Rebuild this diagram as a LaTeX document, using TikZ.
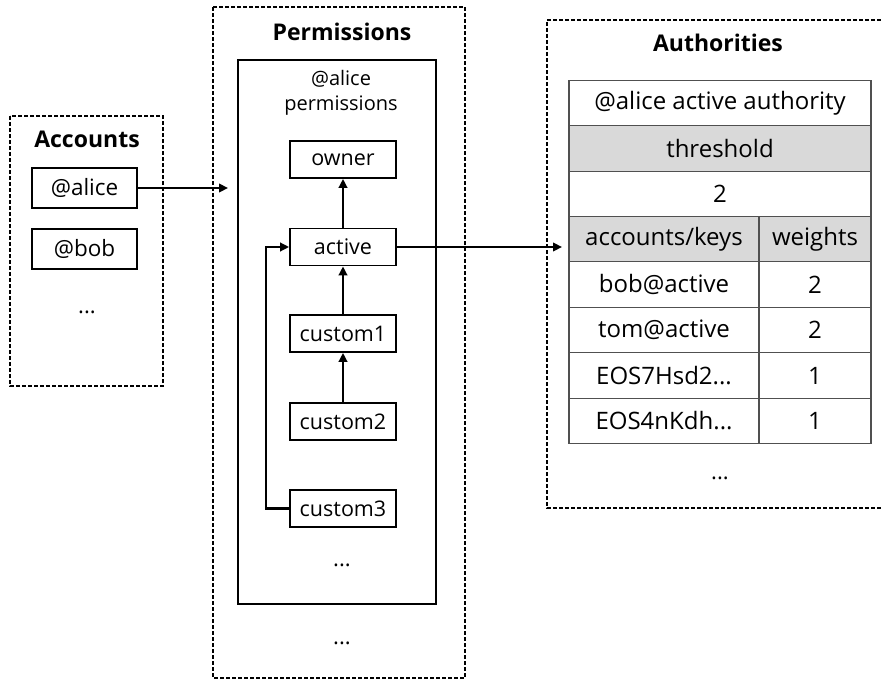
\documentclass[tikz,border=0pt]{standalone}
\usepackage{fontspec}
\setmainfont{Open Sans}
\usetikzlibrary{arrows.meta}
\definecolor{cellgray}{HTML}{D9D9D9}
\definecolor{gridline}{HTML}{505050}
\begin{document}
\begin{tikzpicture}[x=1pt,y=-1pt,
  group/.style={draw, line width=1.3pt, dash pattern=on 4pt off 2pt},
  title/.style={font=\bfseries\fontsize{23}{27}\selectfont, inner sep=0pt},
  label/.style={font=\fontsize{22}{26}\selectfont, inner sep=0pt},
  box/.style={draw, line width=1.8pt, minimum width=106pt, minimum height=37pt,
    inner sep=0pt, font=\fontsize{21.5}{26}\selectfont},
  cell/.style={draw=gridline, line width=1.1pt, minimum height=45.5pt,
    inner sep=0pt, font=\fontsize{24}{28}\selectfont},
  shaded/.style={fill=cellgray},
  arr/.style={-{Triangle[length=9pt,width=8.5pt]}, line width=2.4pt}]
\useasboundingbox (0,0) rectangle (881,680);

% ---- Accounts ----
\draw[group] (10,116) rectangle (163,386);
\node[title] (acctitle) at (87,139) {Accounts};
\node[box, minimum width=105pt, minimum height=40pt, font=\fontsize{22.5}{26}\selectfont] (alice) at (84.5,188) {@alice};
\node[box, minimum width=105pt, minimum height=40pt, font=\fontsize{22.5}{26}\selectfont] (bob) at (84.5,249) {@bob};
\node[label] (accdots) at (87,312) {...};

% ---- Permissions ----
\draw[group] (213,7) rectangle (465,678);
\node[title] (permtitle) at (342,32) {Permissions};
\draw[line width=1.8pt] (238,60) rectangle (436,604);
\node[label, align=center, font=\fontsize{20}{26}\selectfont] (alperm) at (341,93) {@alice\\[-1pt]permissions};
\node[box] (owner) at (343,159.5) {owner};
\node[box] (active) at (343,247) {active};
\node[box] (custom1) at (343,333.5) {custom1};
\node[box] (custom2) at (343,421.5) {custom2};
\node[box] (custom3) at (343,508.5) {custom3};
\node[label] (permdots) at (342,565) {...};
\node[label] (outerdots) at (342,643) {...};

% ---- Authorities ----
\draw[group] (881,20) -- (547,20) -- (547,508) -- (881,508);
\node[title] (authtitle) at (718,43) {Authorities};
\node[cell, minimum width=302pt] (hdr) at (720,103) {@alice active authority};
\node[cell, shaded, minimum width=302pt] (thr) at (720,148.5) {threshold};
\node[cell, minimum width=302pt] (thrval) at (720,194) {2};
\node[cell, shaded, minimum width=190pt] (keyhead) at (664,239) {accounts/keys};
\node[cell, shaded, minimum width=112pt] (wthead) at (815,239) {weights};
\node[cell, minimum width=190pt] (k1) at (664,284.5) {bob@active};
\node[cell, minimum width=112pt] (w1) at (815,284.5) {2};
\node[cell, minimum width=190pt] (k2) at (664,330) {tom@active};
\node[cell, minimum width=112pt] (w2) at (815,330) {2};
\node[cell, minimum width=190pt] (k3) at (664,375.5) {EOS7Hsd2...};
\node[cell, minimum width=112pt] (w3) at (815,375.5) {1};
\node[cell, minimum width=190pt] (k4) at (664,421) {EOS4nKdh...};
\node[cell, minimum width=112pt] (w4) at (815,421) {1};
\node[label] (authdots) at (720,478) {...};

% ---- connectors ----
\coordinate (permin) at (228,188);
\coordinate (authin) at (562,247);
\coordinate (loopx) at (266,0);
\draw[arr] (alice.east) -- (permin);
\draw[arr] (active.north) -- (owner.south);
\draw[arr] (custom1.north) -- (active.south);
\draw[arr] (custom2.north) -- (custom1.south);
\draw[arr] (custom3.west) -- (custom3.west -| loopx) -- (active.west -| loopx) -- (active.west);
\draw[arr] (active.east) -- (authin);
\end{tikzpicture}
\end{document}
